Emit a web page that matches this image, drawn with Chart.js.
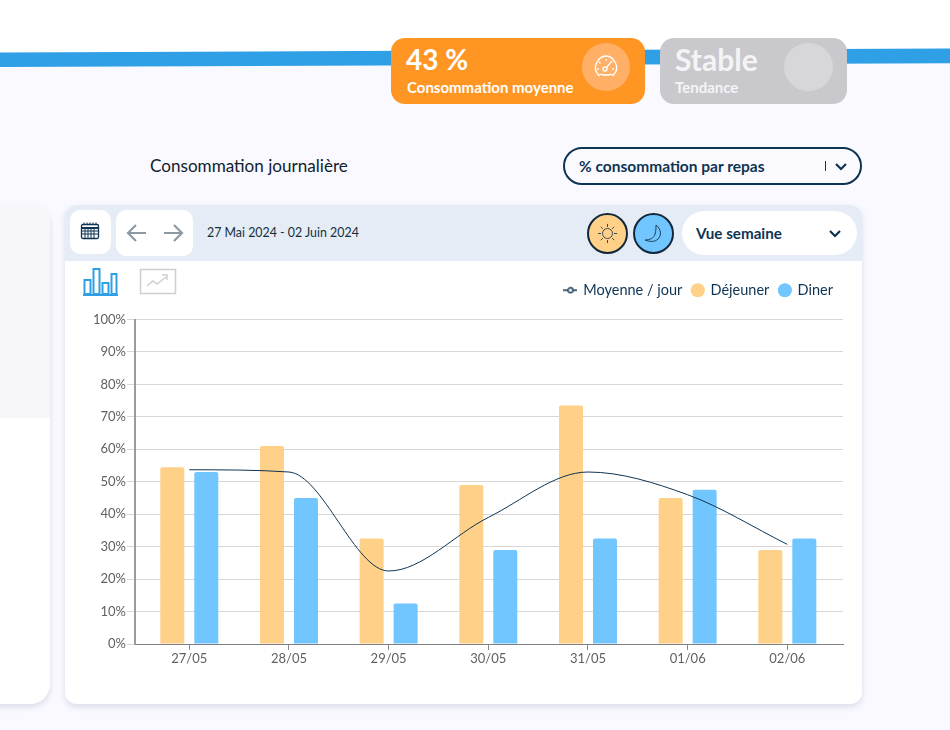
<!DOCTYPE html>
<html><head><meta charset="utf-8">
<script src="https://cdn.jsdelivr.net/npm/chart.js@4"></script>
<style>
html,body{margin:0;padding:0;width:950px;height:730px;overflow:hidden;background:#f9f9ff;font-family:Lato,sans-serif}
.a{position:absolute;box-sizing:border-box}
svg{position:absolute;display:block}
</style></head><body>
<svg style="left:0;top:0" width="950" height="80"><polygon points="0,0 950,0 950,50 0,54" fill="#ffffff"/><polygon points="0,52.500 950,48.500 950,63.300 0,67" fill="#2f9fe6"/></svg>
<div class="a" style="left:391px;top:38px;width:254px;height:66px;background:#ff9624;border-radius:14px"></div>
<div class="a" style="left:406px;top:42px;color:#fff;font-size:28px;font-weight:700;line-height:34px">43 %</div>
<div class="a" style="left:407px;top:78px;color:#fff;font-size:15px;font-weight:700;line-height:18px">Consommation moyenne</div>
<div class="a" style="left:582px;top:43px;width:48px;height:48px;border-radius:50%;background:#ffb066"></div>
<svg style="left:592px;top:53px" width="28" height="28" viewBox="0 0 28 28" fill="none" stroke="#fff" stroke-width="1.3"><path d="M7 22.5C3.500 19 2.500 14 4.500 10 7 5 11 3 14 3s7 2 9.500 7c2 4 1 9-2.500 12.500-1-1.500-3-1.500-4-.5h-6c-1-1-3-1-4 .5z"/><circle cx="13" cy="16" r="2"/><path d="M14.500 14.500 20 8M14 6v2M7 9l1.500 1.500M5 16h2M22 16h-2"/></svg>
<div class="a" style="left:660px;top:38px;width:187px;height:66px;background:#c9c8cd;border-radius:14px"></div>
<div class="a" style="left:675px;top:40px;color:#f4f4f6;font-size:30px;font-weight:700;line-height:38px">Stable</div>
<div class="a" style="left:675px;top:78px;color:#f4f4f6;font-size:15px;font-weight:700;line-height:18px">Tendance</div>
<div class="a" style="left:784px;top:43px;width:49px;height:48px;border-radius:50%;background:#d7d6da"></div>

<div class="a" style="left:150px;top:155px;color:#10222e;font-size:17.100px;font-weight:400;line-height:22px">Consommation journalière</div>
<div class="a" style="left:563px;top:147px;width:299px;height:38px;border:2.500px solid #0e3453;border-radius:19px;background:#fbfbff"></div>
<div class="a" style="left:579px;top:157px;color:#0e3453;font-size:15.500px;font-weight:700;line-height:18px">% consommation par repas</div>
<div class="a" style="left:825px;top:161px;width:1px;height:10px;background:#0e3453"></div>
<svg style="left:834px;top:162px" width="14" height="10" fill="none" stroke="#0e3453" stroke-width="2.200"><path d="M2 2l5 5 5-5"/></svg>

<div class="a" style="left:-30px;top:205px;width:80px;height:499px;background:#fff;border-radius:0 20px 20px 0;box-shadow:0 3px 6px rgba(120,120,160,.22)"></div>
<div class="a" style="left:-30px;top:205px;width:80px;height:213px;background:#f6f6fb;border-radius:0 12px 0 0"></div>

<div class="a" style="left:65px;top:205px;width:797px;height:499px;background:#fff;border-radius:12px;box-shadow:0 3px 6px rgba(120,120,160,.22)"></div>
<div class="a" style="left:65px;top:205px;width:797px;height:56px;background:#e6ecf5;border-radius:12px 12px 0 0"></div>
<div class="a" style="left:70px;top:210px;width:41px;height:44px;background:#fff;border-radius:10px"></div>
<svg style="left:80px;top:222px" width="20" height="18" fill="none" stroke="#0e3453"><rect x="1.500" y="2.500" width="17" height="14" rx="1.500" stroke-width="1.300"/><path d="M1.500 6h17" stroke-width="2"/><path d="M1.500 9h17M1.500 12h17M5 6v10M8 6v10M11 6v10M14 6v10M4 0.500v2M7 0.500v2M10 0.500v2M13 0.500v2M16 0.500v2" stroke-width="1"/></svg>
<div class="a" style="left:116px;top:210px;width:77px;height:46px;background:#fff;border-radius:10px"></div>
<svg style="left:126px;top:223px" width="58" height="20" fill="none" stroke="#8c9ba3" stroke-width="2.200"><path d="M20 10H2M10 2l-8 8 8 8M38 10h18M48 2l8 8-8 8"/></svg>
<div class="a" style="left:207px;top:224px;color:#12303c;font-size:12.400px;line-height:17px">27 Mai 2024 - 02 Juin 2024</div>
<div class="a" style="left:587px;top:213px;width:41px;height:41px;border-radius:50%;background:#ffd088;border:2px solid #12283a"></div>
<svg style="left:597px;top:223px" width="21" height="21" fill="none" stroke="#3a4a52" stroke-width="1"><circle cx="10.500" cy="10.500" r="5"/><path d="M10.500 1v3M10.500 17v3M1 10.500h3M17 10.500h3M3.800 3.800l2 2M15.200 15.200l2 2M3.800 17.200l2-2M15.200 5.800l2-2"/></svg>
<div class="a" style="left:633px;top:213px;width:41px;height:41px;border-radius:50%;background:#72c6ff;border:2px solid #12283a"></div>
<svg style="left:644px;top:224px" width="20" height="20" fill="none" stroke="#1d3f55" stroke-width="1"><path d="M12 1c5 4 6 10 2 14-3 3-8 3-13 1 5 0 9-2 10-6 1-3 1-6 1-9z"/></svg>
<div class="a" style="left:682px;top:211px;width:175px;height:44px;background:#fff;border-radius:22px"></div>
<div class="a" style="left:696px;top:224px;color:#0e3453;font-size:15.200px;font-weight:700;line-height:18px">Vue semaine</div>
<svg style="left:828px;top:229px" width="14" height="10" fill="none" stroke="#0e3453" stroke-width="2.200"><path d="M2 2l5 5 5-5"/></svg>
<svg style="left:82px;top:267px" width="38" height="30" fill="none" stroke="#2f9fe6" stroke-width="2"><rect x="2.500" y="13" width="6" height="14"/><rect x="11.500" y="2" width="6" height="25"/><rect x="20.500" y="16" width="6" height="11"/><rect x="29.500" y="7" width="5" height="20"/><path d="M1 28h35" stroke-width="2"/></svg>
<svg style="left:139px;top:268px" width="38" height="28" fill="none" stroke="#cfcfd2" stroke-width="1.500"><rect x="1.500" y="1.500" width="35" height="24"/><path d="M8 18l6-5 4 3 9-7M23 7h5v5"/></svg>

<div class="a" style="left:65px;top:262px;width:797px;height:442px"><canvas id="c" width="797" height="442"></canvas></div>
<script>
const categories=["27/05","28/05","29/05","30/05","31/05","01/06","02/06"];
const dejeuner=[54.5,61,32.5,49,73.5,45,29];
const diner=[53,45,12.5,29,32.5,47.5,32.5];
const moyenne=[53.7,53,22.5,39,53,46,30.7];
const yTicks=[0,10,20,30,40,50,60,70,80,90,100];
const seriesNames=["Moyenne / jour","Déjeuner","Diner"];

const mark=document.createElement('canvas');mark.width=14;mark.height=8;
const m=mark.getContext('2d');m.strokeStyle='#0e3453';m.lineWidth=1.300;
m.beginPath();m.moveTo(0,4);m.lineTo(4.500,4);m.moveTo(9.500,4);m.lineTo(14,4);m.stroke();
m.beginPath();m.arc(7,4,2.500,0,Math.PI*2);m.stroke();

const shiftBands={id:'shiftBands',
  beforeLayout(ch){
    const l=ch.legend;
    if(l&&!l._grown){l._grown=true;const f=l.fit.bind(l);l.fit=function(){f();l.height+=12;l.minSize&&(l.minSize.height=l.height);};}
  },
  afterLayout(ch){
    const x=ch.scales.x;const band=99.67;
    x._valueRange=x.width/band;x._startValue=-54.3/band;
  }};
const barRadius={topLeft:2,topRight:2,bottomLeft:0,bottomRight:0};
new Chart(document.getElementById('c'),{
  type:'bar',
  data:{labels:categories,datasets:[
    {type:'line',label:seriesNames[0],data:moyenne,borderColor:'#0e3453',borderWidth:1,backgroundColor:'transparent',pointRadius:0,pointStyle:mark,cubicInterpolationMode:'monotone',order:0},
    {label:seriesNames[1],data:dejeuner,backgroundColor:'#ffd088',borderRadius:barRadius,borderSkipped:false,pointStyle:'circle',categoryPercentage:.682,barPercentage:.706,order:1},
    {label:seriesNames[2],data:diner,backgroundColor:'#72c6ff',borderRadius:barRadius,borderSkipped:false,pointStyle:'circle',categoryPercentage:.682,barPercentage:.706,order:1}
  ]},
  plugins:[shiftBands],
  options:{
    responsive:false,animation:false,
    layout:{padding:{left:0,right:19,top:11,bottom:0}},
    plugins:{tooltip:{enabled:false},
      legend:{position:'top',align:'end',labels:{usePointStyle:true,boxWidth:11,boxHeight:10,padding:10,color:'#0e3453',font:{family:'Lato',size:14.500}}}},
    scales:{
      x:{grid:{offset:false,drawOnChartArea:false,drawTicks:true,tickLength:6,color:'#8b8b8f'},border:{color:'#808084',width:1},
         ticks:{color:'#5f5f64',padding:1,maxRotation:0,font:{family:'Lato',size:13}},
         afterFit(s){s.height=60}},
      y:{min:0,max:100,afterBuildTicks(s){s.ticks=yTicks.map(v=>({value:v}))},
         grid:{color:'#d6d6d8',lineWidth:1,tickLength:8},border:{color:'#9b9b9f',width:2},
         ticks:{color:'#5f5f64',padding:1,callback:v=>v+'%',font:{family:'Lato',size:13}},
         afterFit(s){s.width=70}}
    }
  }
});
</script>
</body></html>
